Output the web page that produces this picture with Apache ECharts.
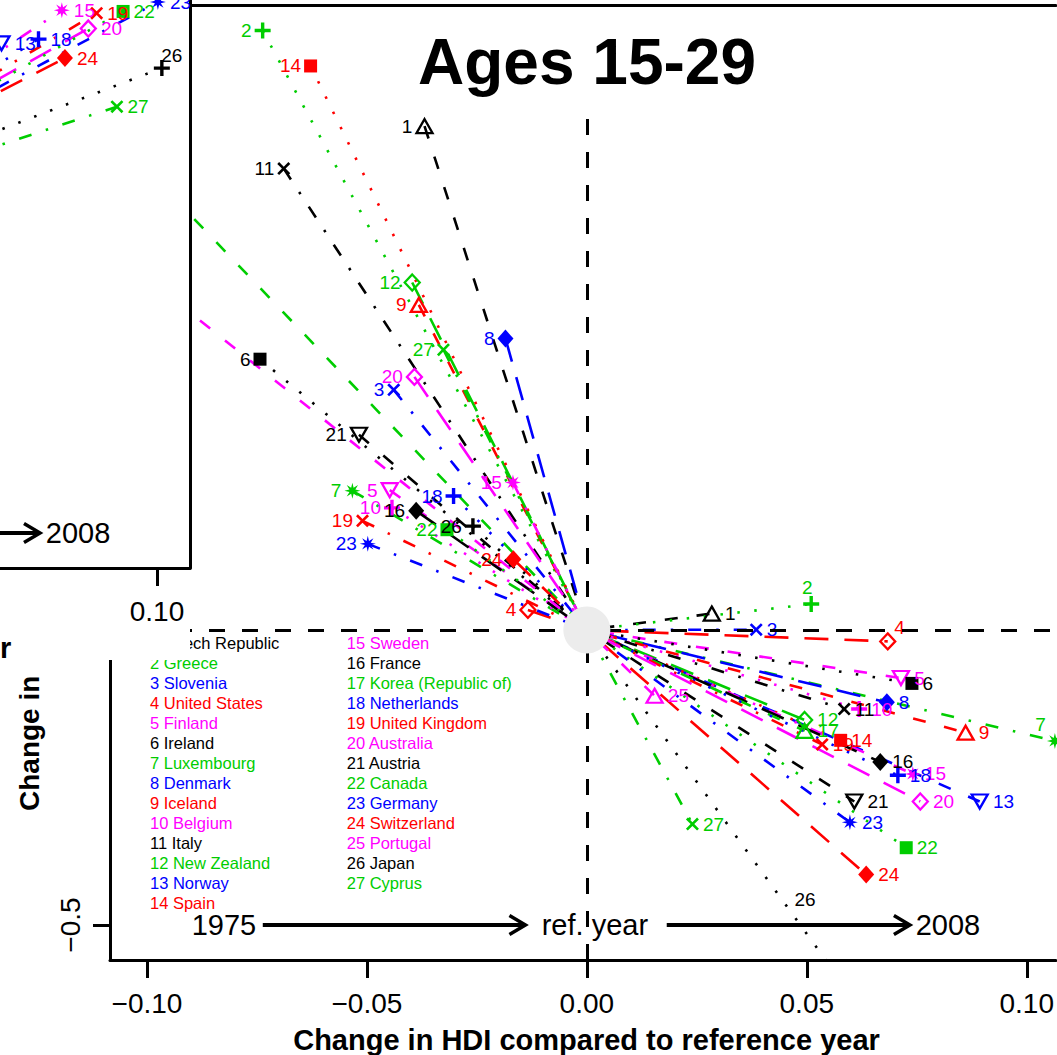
<!DOCTYPE html>
<html><head><meta charset="utf-8">
<script src="https://cdn.jsdelivr.net/npm/echarts@6/dist/echarts.min.js"></script>
<style>html,body{margin:0;padding:0;background:#fff}#c{width:1057px;height:1055px}</style>
</head><body><div id="c"></div>
<script>
// ---------------- data ----------------
const countries = ["Czech Republic","Greece","Slovenia","United States","Finland","Ireland","Luxembourg","Denmark","Iceland","Belgium","Italy","New Zealand","Norway","Spain","Sweden","France","Korea (Republic of)","Netherlands","United Kingdom","Australia","Austria","Canada","Germany","Switzerland","Portugal","Japan","Cyprus"];
// main panel (Ages 15-29): change in HDI (x) and change in rate (y) vs reference year
const hdi1975 = [-0.0369,-0.0737,-0.0439,-0.0134,-0.0448,-0.0743,-0.0533,-0.0185,-0.0382,-0.0443,-0.0689,-0.0397,null,-0.0628,-0.0168,-0.0388,-0.0993,-0.0303,-0.0510,-0.0392,-0.0518,-0.0318,-0.0498,-0.0167,-0.0993,-0.0259,-0.0326];
const chg1975 = [0.854,1.016,0.407,0.034,0.237,0.459,0.236,0.494,0.551,0.207,0.782,0.589,null,0.956,0.250,0.202,0.775,0.227,0.185,0.429,0.331,0.170,0.146,0.120,0.5925,0.176,0.475];
const hdi2008 = [0.0284,0.0510,0.0385,0.0684,0.0714,0.0739,0.1064,0.0682,0.0861,0.0619,0.0585,0.0495,0.0893,0.0577,0.0741,0.0667,0.0495,0.0707,0.0535,0.0758,0.0608,0.0726,0.0598,0.0635,0.0154,0.0592,0.0240];
const chg2008 = [0.0278,0.044,0.0005,-0.0193,-0.0814,-0.0905,-0.188,-0.1225,-0.174,-0.134,-0.134,-0.1525,-0.2907,-0.187,-0.244,-0.2237,-0.171,-0.2463,-0.194,-0.2907,-0.2907,-0.369,-0.326,-0.4146,-0.1115,-0.61,-0.329];
const label26At = [0.0496,-0.4576];
// partially visible neighbouring panel (top-left)
const insetIds = [13,15,18,19,20,22,23,24,26,27];
const insetHdi2008 = [0.0647,0.0784,0.0731,0.0863,0.0844,0.0923,0.1002,0.0791,0.1011,0.0909];
const insetChg2008 = [0.330,0.386,0.337,0.381,0.355,0.384,0.400,0.305,0.288,0.2225];
// ticks
const xTicks = [-0.10,-0.05,0.00,0.05,0.10];
const yTicks = [-0.5];
const insetXTicks = [0.10];
// timeline annotation (data coords)
const tlY = -0.5, tl1975 = -0.0825, tlArrow1 = [-0.07367,-0.01396], tlRef = 0.00182, tlArrow2 = [0.01816,0.07344], tl2008 = 0.08207;

// ---------------- style ----------------
const FONT = '"Liberation Sans", Arial, Helvetica, sans-serif';
const COLORS = ['#000000','#00CD00','#0000FF','#FF0000','#FF00FF'];
const DASHES = [[13,19],[2.5,14.5],[13,15,2.5,15],[24,16]];
const MAIN_X = [-0.1084, 0.10658], MAIN_Y = [-0.55932, 1.05932];
const INSET_X = [0.064358, 0.10749], INSET_Y = [-0.55932, 0.40339];
const PLUS = 'path://M-1.7,-8H1.7V-1.7H8V1.7H1.7V8H-1.7V1.7H-8V-1.7H-1.7Z';
const CROSS = 'path://M-7,-5L-5,-7L0,-2L5,-7L7,-5L2,0L7,5L5,7L0,2L-5,7L-7,5L-2,0Z';
let star = 'path://';
for (let k = 0; k < 16; k++) {
  const a = k * Math.PI / 8 - Math.PI / 2, r = k % 2 === 0 ? 8 : 3.2;
  star += (k === 0 ? 'M' : 'L') + (r * Math.cos(a)).toFixed(3) + ',' + (r * Math.sin(a)).toFixed(3);
}
star += 'Z';
const SYMS = [
  {symbol:'triangle', symbolSize:[16,14], open:true},
  {symbol:PLUS, symbolSize:16},
  {symbol:CROSS, symbolSize:13},
  {symbol:'diamond', symbolSize:[15,16], open:true},
  {symbol:'triangle', symbolSize:[16,14], open:true, rot:180},
  {symbol:'rect', symbolSize:13},
  {symbol:star, symbolSize:16},
  {symbol:'diamond', symbolSize:[16,18]}
];
function marker(id, color) {
  const d = SYMS[(id - 1) % 8];
  return {
    symbol: d.symbol, symbolSize: d.symbolSize, symbolRotate: d.rot || 0,
    itemStyle: d.open ? {color:'rgba(255,255,255,0)', borderColor:color, borderWidth:2.3} : {color:color, borderWidth:0}
  };
}
const LABEL_2008 = {2:{position:'top',offset:[-4,5]}, 4:{position:'right',offset:[-6,-14]}, 7:{position:'left',offset:[3,-16]}};
const INSET_LABEL = {26:{position:'top',offset:[10,9]}};

const series = [];
// axes cross lines (main)
series.push({type:'line', xAxisIndex:0, yAxisIndex:0, data:[[0,0]], symbol:'none', z:1, silent:true,
  markLine:{silent:true, symbol:['none','none'], label:{show:false}, animation:false,
    lineStyle:{color:'#000', width:3, type:[16,17]}, data:[{xAxis:0},{yAxis:0}]}});
for (let i = 1; i <= 27; i++) {
  const c = COLORS[(i - 1) % 5];
  const m = marker(i, c);
  const data = [];
  if (hdi1975[i-1] != null) {
    data.push(Object.assign({value:[hdi1975[i-1], chg1975[i-1]],
      label:{show:true, position:'left', distance:3, formatter:String(i)}}, m));
  }
  data.push({value:[0,0], symbol:'none', label:{show:false}});
  const lp = LABEL_2008[i] || {position:'right'};
  data.push(Object.assign({value:[hdi2008[i-1], chg2008[i-1]],
    label:Object.assign({show:true, distance:4, formatter:String(i)}, lp)}, m));
  series.push({type:'line', name:countries[i-1], xAxisIndex:0, yAxisIndex:0, data, z:3, silent:true,
    clip:true, showAllSymbol:true,
    lineStyle:{color:c, width:2.6, type:DASHES[(i-1)%4]},
    label:{color:c, fontSize:19, fontFamily:FONT}, emphasis:{disabled:true}});
}
// label of Japan whose 2008 point lies below the plot
series.push({type:'scatter', xAxisIndex:0, yAxisIndex:0, data:[label26At], symbol:'circle', symbolSize:1,
  itemStyle:{color:'rgba(0,0,0,0)', opacity:1}, z:4, silent:true,
  label:{show:true, position:'inside', formatter:'26', color:'#000', fontSize:19, fontFamily:FONT}});
// reference-year disc
series.push({type:'scatter', xAxisIndex:0, yAxisIndex:0, data:[[0,0]], symbol:'circle', symbolSize:47,
  itemStyle:{color:'#ececec', opacity:1}, z:8, silent:true, emphasis:{disabled:true}});
// inset panel
series.push({type:'line', xAxisIndex:2, yAxisIndex:1, data:[[INSET_X[0],0]], symbol:'none', z:12, silent:true,
  markLine:{silent:true, symbol:['none','none'], label:{show:false}, animation:false,
    lineStyle:{color:'#000', width:3, type:[16,17]}, data:[{yAxis:0}]}});
insetIds.forEach((id, j) => {
  const c = COLORS[(id - 1) % 5];
  const m = marker(id, c);
  const lp = INSET_LABEL[id] || {position:'right'};
  series.push({type:'line', name:'inset ' + countries[id-1], xAxisIndex:2, yAxisIndex:1, z:13, silent:true, clip:true,
    data:[{value:[0,0], symbol:'none', label:{show:false}},
      Object.assign({value:[insetHdi2008[j], insetChg2008[j]], label:Object.assign({show:true, distance:4, formatter:String(id)}, lp)}, m)],
    lineStyle:{color:c, width:2.6, type:DASHES[(id-1)%4]},
    label:{color:c, fontSize:19, fontFamily:FONT}, emphasis:{disabled:true}});
});

const fmt = (d) => (v) => (v < 0 ? '\u2212' : '') + Math.abs(v).toFixed(d);
const axLine = {show:true, onZero:false, lineStyle:{color:'#000', width:3}};
const option = {
  animation:false,
  backgroundColor:'#ffffff',
  textStyle:{fontFamily:FONT},
  grid:[{left:110, top:5, right:0, bottom:95}, {left:0, top:0, width:190, height:568, z:12}],
  xAxis:[
    {gridIndex:0, type:'value', min:MAIN_X[0], max:MAIN_X[1], position:'bottom', axisLine:axLine,
      axisTick:{show:true, customValues:xTicks, length:18, lineStyle:{color:'#000', width:3}},
      axisLabel:{show:true, customValues:xTicks, formatter:fmt(2), fontSize:28, color:'#000', margin:29, fontFamily:FONT},
      splitLine:{show:false}},
    {gridIndex:0, type:'value', min:MAIN_X[0], max:MAIN_X[1], position:'top', axisLine:axLine,
      axisTick:{show:false}, axisLabel:{show:false}, splitLine:{show:false}},
    {gridIndex:1, type:'value', min:INSET_X[0], max:INSET_X[1], position:'bottom', axisLine:axLine, z:12,
      axisTick:{show:true, customValues:insetXTicks, length:18, lineStyle:{color:'#000', width:3}},
      axisLabel:{show:true, customValues:insetXTicks, formatter:fmt(2), fontSize:28, color:'#000', margin:29, fontFamily:FONT},
      splitLine:{show:false}}
  ],
  yAxis:[
    {gridIndex:0, type:'value', min:MAIN_Y[0], max:MAIN_Y[1], position:'left', axisLine:axLine,
      axisTick:{show:true, customValues:yTicks, length:17, lineStyle:{color:'#000', width:3}},
      axisLabel:{show:true, customValues:yTicks, formatter:fmt(1), rotate:90, fontSize:28, color:'#000', margin:26, fontFamily:FONT},
      splitLine:{show:false}},
    {gridIndex:1, type:'value', min:INSET_Y[0], max:INSET_Y[1], position:'right', axisLine:axLine, z:12,
      axisTick:{show:false}, axisLabel:{show:false}, splitLine:{show:false}}
  ],
  series
};
const chart = echarts.init(document.getElementById('c'), null, {renderer:'svg', width:1057, height:1055});
chart.setOption(option);

// ---------------- annotations ----------------
const P = (g, x, y) => chart.convertToPixel({gridIndex:g}, [x, y]);
const G = [];
const txt = (x, y, text, font, extra) => Object.assign({type:'text', silent:true, x, y,
  style:{text, font, fill:'#000', align:'center', verticalAlign:'middle'}}, extra || {});
function arrow(x1, x2, y, z) {
  G.push({type:'line', silent:true, z, shape:{x1, y1:y, x2:x2 - 2, y2:y}, style:{stroke:'#000', lineWidth:4}});
  G.push({type:'polyline', silent:true, z, shape:{points:[[x2 - 16, y - 9.5], [x2, y], [x2 - 16, y + 9.5]]},
    style:{stroke:'#000', lineWidth:3.5, fill:null}});
}
// main timeline
const m1975 = P(0, tl1975, tlY), mA1s = P(0, tlArrow1[0], tlY), mA1e = P(0, tlArrow1[1], tlY);
const mRef = P(0, tlRef, tlY), mA2s = P(0, tlArrow2[0], tlY), mA2e = P(0, tlArrow2[1], tlY), m2008 = P(0, tl2008, tlY);
G.push(txt(m1975[0], m1975[1], '1975', '29px ' + FONT, {z:5}));
arrow(mA1s[0], mA1e[0], mA1s[1], 5);
G.push(txt(mRef[0], mRef[1], 'ref. year', '29px ' + FONT, {z:5}));
arrow(mA2s[0], mA2e[0], mA2s[1], 5);
G.push(txt(m2008[0], m2008[1], '2008', '29px ' + FONT, {z:5}));
// legend
countries.forEach((name, k) => {
  const col = k < 14 ? 0 : 1, row = k < 14 ? k : k - 14;
  G.push({type:'text', silent:true, z:5, x: col === 0 ? 150 : 346.7, y: 643.4 + row * 19.95,
    style:{text:(k + 1) + ' ' + name, font:'16.5px ' + FONT, fill:COLORS[k % 5], align:'left', verticalAlign:'middle'}});
});
// axis titles
G.push(txt(586.5, 1040, 'Change in HDI compared to reference year', 'bold 29px ' + FONT, {z:5}));
G.push({type:'text', silent:true, z:5, x:29, y:811, rotation:Math.PI / 2,
  style:{text:'Change in', font:'bold 28px ' + FONT, fill:'#000', align:'left', verticalAlign:'middle'}});
// panel title (its white box hides the top of the x = 0 guide line)
G.push({type:'text', silent:true, z:7, x:587, y:62,
  style:{text:'Ages 15-29', font:'bold 64px ' + FONT, fill:'#000', align:'center', verticalAlign:'middle',
    backgroundColor:'#ffffff', padding:[26, 8, 12, 8]}});
// neighbouring panel cover + its timeline part + x-title end
G.push({type:'rect', silent:true, z:10, shape:{x:0, y:0, width:190, height:660}, style:{fill:'#ffffff'}});
const iA2s = P(1, tlArrow2[0], tlY), iA2e = P(1, tlArrow2[1], tlY), i2008 = P(1, tl2008, tlY);
arrow(Math.max(0, iA2s[0]), iA2e[0], iA2s[1], 14);
G.push(txt(i2008[0], i2008[1], '2008', '29px ' + FONT, {z:14}));
G.push({type:'text', silent:true, z:14, x:0, y:648,
  style:{text:'r', font:'bold 29px ' + FONT, fill:'#000', align:'left', verticalAlign:'middle'}});
chart.setOption({graphic:{elements:G}});
</script></body></html>
